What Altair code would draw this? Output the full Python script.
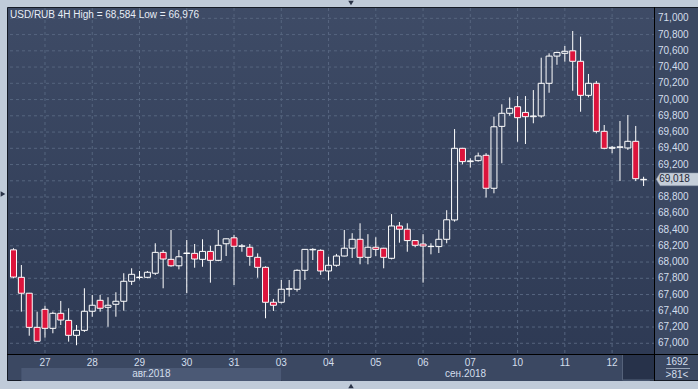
import altair as alt
import pandas as pd

# ---- data (USD/RUB, 4H candles) ----
opens = [68150, 67812, 67616, 67196, 67418, 67184, 67369, 67282, 67098, 67159,
         67394, 67529, 67443, 67480, 67517, 67763, 67810, 67812, 67862, 68119,
         68033, 67954, 68105, 68107, 68033, 68131, 68021, 68225, 68298, 68194,
         68182, 68058, 67935, 67505, 67505, 67665, 67665, 67898, 68150, 68144,
         67890, 67960, 68074, 68170, 68280, 68058, 68182, 68170, 68046, 68444,
         68404, 68264, 68222, 68190, 68190, 68280, 68518, 69400, 69236, 69248,
         69314, 68908, 69670, 69831, 69912, 69842, 69789, 69798, 70200, 70535,
         70569, 70600, 70471, 70052, 70200, 69609, 69400, 69412, 69404, 69486,
         69012]
highs = [68170, 67963, 67620, 67389, 67463, 67389, 67521, 67431, 67225, 67677,
         67595, 67595, 67567, 67628, 67862, 67923, 67890, 67890, 68231, 68148,
         68395, 68148, 68271, 68222, 68280, 68200, 68395, 68290, 68335, 68222,
         68222, 68107, 67947, 67546, 67779, 67779, 67910, 68160, 68170, 68156,
         68065, 68100, 68395, 68355, 68477, 68343, 68305, 68175, 68590, 68493,
         68477, 68270, 68343, 68231, 68395, 68638, 69637, 69405, 69277, 69347,
         69340, 69789, 69942, 70027, 70043, 70043, 70117, 70515, 70569, 70588,
         70660, 70844, 70774, 70315, 70229, 69687, 69429, 69736, 69810, 69675,
         69050]
lows = [67800, 67389, 67093, 67020, 67069, 67123, 67225, 67020, 66976, 67140,
        67327, 67389, 67204, 67327, 67401, 67718, 67788, 67800, 67841, 67677,
        67942, 67910, 67616, 67930, 67942, 67746, 68010, 68074, 67718, 68127,
        67954, 67807, 67308, 67398, 67490, 67575, 67636, 67779, 68025, 67841,
        67775, 67942, 68070, 68050, 67972, 67972, 68074, 67923, 68033, 68238,
        68127, 68182, 67746, 68095, 68111, 68231, 68497, 69203, 69162, 69236,
        68794, 68846, 69216, 69801, 69481, 69453, 69708, 69777, 70084, 70428,
        70466, 70109, 69850, 70027, 69584, 69388, 69339, 68997, 69380, 68997,
        68936]
closes = [67815, 67616, 67196, 67025, 67184, 67369, 67286, 67098, 67159, 67394,
          67468, 67431, 67468, 67517, 67763, 67849, 67814, 67874, 68119, 68037,
          67954, 68065, 68111, 68037, 68131, 68021, 68206, 68286, 68194, 68198,
          68070, 67935, 67505, 67468, 67665, 67672, 67898, 68156, 68156, 67890,
          67960, 68074, 68170, 68280, 68058, 68182, 68156, 68058, 68444, 68404,
          68264, 68206, 68197, 68194, 68280, 68520, 69400, 69236, 69245, 69306,
          68908, 69665, 69831, 69892, 69777, 69789, 69798, 70200, 70535, 70580,
          70594, 70471, 70052, 70200, 69609, 69400, 69412, 69418, 69486, 69026,
          69018]

day_labels = ["27", "28", "29", "30", "31", "03", "04", "05", "06", "07", "10", "11", "12"]
day_index = [4, 10, 16, 22, 28, 34, 40, 46, 52, 58, 64, 70, 76]
month_labels = ["авг.2018", "сен.2018"]
month_start = [1, 34]
month_end = [34, 80.8]
price_ticks = list(range(67000, 71001, 200))
title_text = "USD/RUB 4H High = 68,584 Low = 66,976"
last_price_text = "69,018"
corner_top = "1692"
corner_bottom = ">81<"

# ---- styling ----
FONT = "Liberation Sans"
PAGE_BG = "#c0cbd9"
PANEL = "#3b4862"
BAND = "#4b5975"
DARKBOX = "#27324a"
GRID = "#56657f"
RED = "#dc143c"
LABEL = "#d3deec"

W, H = 647, 346
xs = alt.Scale(domain=[-0.0625, 80.8125], nice=False, zero=False)
ys = alt.Scale(domain=[66868, 71127], nice=False, zero=False)

df = pd.DataFrame({"i": list(range(len(opens))), "open": opens, "high": highs,
                   "low": lows, "close": closes})
df["top"] = df[["open", "close"]].max(axis=1)
df["bot"] = df[["open", "close"]].min(axis=1)

one = pd.DataFrame({"a": [0]})
days = pd.DataFrame({"d": day_index, "lab": day_labels})
months = pd.DataFrame({"m": month_labels, "s": month_start, "e": month_end})
ticks = pd.DataFrame({"p": price_ticks})
last = df.tail(1).assign(txt=last_price_text)

frame = alt.Chart(one).mark_rect(fill=PANEL, stroke="#151b26", strokeWidth=1).encode(
    x=alt.value(-0.5), x2=alt.value(700), y=alt.value(-0.5), y2=alt.value(372.5))

grad = alt.Gradient(gradient="linear", x1=0, x2=0, y1=0, y2=1,
                    stops=[alt.GradientStop(color="#3e4b66", offset=0),
                           alt.GradientStop(color="#2e3a54", offset=1)])
plotbg = alt.Chart(one).mark_rect(fill=grad).encode(
    x=alt.value(0), x2=alt.value(W), y=alt.value(0), y2=alt.value(H))

bands = alt.Chart(months).mark_rect().encode(
    x=alt.X("s:Q", scale=xs, axis=None), x2="e:Q",
    y=alt.value(360), y2=alt.value(373),
    color=alt.Color("m:N", scale=alt.Scale(domain=month_labels, range=[BAND, PANEL]), legend=None))

month_text = alt.Chart(months).transform_calculate(c="(datum.s + datum.e) / 2").mark_text(
    font=FONT, fontSize=10, color=LABEL, baseline="middle", align="center").encode(
    x=alt.X("c:Q", scale=xs, axis=None), y=alt.value(366), text="m:N")

darkbox = alt.Chart(one).mark_rect(fill=DARKBOX, stroke="#55627a", strokeWidth=1).encode(
    x=alt.value(614.5), x2=alt.value(646.5), y=alt.value(346.5), y2=alt.value(372))

hgrid = alt.Chart(ticks).mark_rule(color=GRID, strokeWidth=1, strokeDash=[3, 3]).encode(
    y=alt.Y("p:Q", scale=ys, axis=None))

price_text = alt.Chart(ticks).transform_calculate(t="format(datum.p, ',d')").mark_text(
    font=FONT, fontSize=10, color=LABEL, align="left", baseline="middle").encode(
    x=alt.value(650), y=alt.Y("p:Q", scale=ys, axis=None), text="t:N")

vgrid = alt.Chart(days).mark_rule(color=GRID, strokeWidth=1, strokeDash=[3, 3]).encode(
    x=alt.X("d:Q", scale=xs, axis=None))

day_text = alt.Chart(days).mark_text(font=FONT, fontSize=10, color=LABEL,
                                     baseline="middle", align="center").encode(
    x=alt.X("d:Q", scale=xs, axis=None), y=alt.value(354.5), text="lab:N")

wick_up = alt.Chart(df).mark_rule(color="white", strokeWidth=1, clip=True).encode(
    x=alt.X("i:Q", scale=xs, axis=None), y=alt.Y("high:Q", scale=ys, axis=None), y2="top:Q")
wick_dn = alt.Chart(df).mark_rule(color="white", strokeWidth=1, clip=True).encode(
    x=alt.X("i:Q", scale=xs, axis=None), y=alt.Y("bot:Q", scale=ys, axis=None), y2="low:Q")

bodies = alt.Chart(df).mark_bar(size=6, stroke="white", strokeWidth=1, clip=True).encode(
    x=alt.X("i:Q", scale=xs, axis=None),
    y=alt.Y("open:Q", scale=ys, axis=None), y2="close:Q",
    fill=alt.condition("datum.close < datum.open", alt.value(RED), alt.value("transparent")))

vline = alt.Chart(one).mark_rule(color="#000000", strokeWidth=1).encode(
    x=alt.value(646.5), y=alt.value(-1), y2=alt.value(373))
hline = alt.Chart(one).mark_rule(color="#000000", strokeWidth=1).encode(
    y=alt.value(346.5), x=alt.value(-1), x2=alt.value(690))

title = alt.Chart(one).mark_text(font=FONT, fontSize=10, color="#e8eef6",
                                 align="left", baseline="middle").encode(
    x=alt.value(2), y=alt.value(6.5), text=alt.value(title_text))

tag_shape = "M-1,0 L-0.82,-0.3 L1,-0.3 L1,0.3 L-0.82,0.3 Z"
tag = alt.Chart(last).mark_point(shape=tag_shape, filled=True, fill="#c6ced9",
                                 stroke="#8a96a8", strokeWidth=0.5, opacity=1, size=1800).encode(
    x=alt.value(669.5), y=alt.Y("close:Q", scale=ys, axis=None))
tag_text = alt.Chart(last).mark_text(font=FONT, fontSize=10, color="#1d2636",
                                     align="center", baseline="middle").encode(
    x=alt.value(666.5), y=alt.Y("close:Q", scale=ys, axis=None), text="txt:N")

corner1 = alt.Chart(one).mark_text(font=FONT, fontSize=10, color=LABEL,
                                   align="center", baseline="middle").encode(
    x=alt.value(669), y=alt.value(354), text=alt.value(corner_top))
corner2 = alt.Chart(one).mark_text(font=FONT, fontSize=10, color=LABEL,
                                   align="center", baseline="middle").encode(
    x=alt.value(669), y=alt.value(366.5), text=alt.value(corner_bottom))
corner_line = alt.Chart(one).mark_rule(color="#9aa6b8", strokeWidth=1).encode(
    y=alt.value(360.5), x=alt.value(658), x2=alt.value(682))

tri_top = alt.Chart(one).mark_point(shape="triangle-down", filled=True, fill="#2a3347",
                                    opacity=1, size=30).encode(x=alt.value(343), y=alt.value(-5))
tri_bot = alt.Chart(one).mark_point(shape="triangle-up", filled=True, fill="#2a3347",
                                    opacity=1, size=30).encode(x=alt.value(343), y=alt.value(378))
tri_left = alt.Chart(one).mark_point(shape="triangle-right", filled=True, fill="#2a3347",
                                     opacity=1, size=30).encode(x=alt.value(-5), y=alt.value(186))

chart = alt.layer(
    frame, plotbg, bands, darkbox, month_text, hgrid, vgrid, day_text, price_text,
    wick_up, wick_dn, bodies, vline, hline, title, tag, tag_text,
    corner1, corner2, corner_line, tri_top, tri_bot, tri_left
).properties(
    width=W, height=H,
    padding={"left": 8, "top": 8, "right": 43, "bottom": 35},
    autosize=alt.AutoSizeParams(type="none"),
    background=PAGE_BG,
).configure_view(stroke=None)

chart.save("out.html", embed_options={"renderer": "svg", "actions": False})
